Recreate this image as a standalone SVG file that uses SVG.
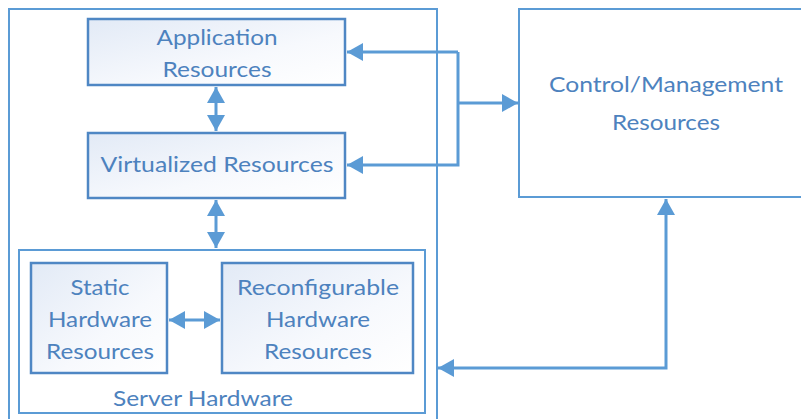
<svg xmlns="http://www.w3.org/2000/svg" width="801" height="419" viewBox="0 0 801 419">
<defs>
<linearGradient id="g" x1="0" y1="0" x2="1" y2="1">
<stop offset="0" stop-color="#e2eaf6"/>
<stop offset="0.6" stop-color="#f7f9fd"/>
<stop offset="1" stop-color="#ffffff"/>
</linearGradient>
<marker id="a" viewBox="0 0 16 18" refX="16" refY="9" markerWidth="16" markerHeight="18" markerUnits="userSpaceOnUse" orient="auto-start-reverse">
<path d="M0,0 L16,9 L0,18 Z" fill="#5b9bd5"/>
</marker>
</defs>
<style>
.cont{fill:none;stroke:#5b9bd5;stroke-width:2}
.box{fill:url(#g);stroke:#4f87c4;stroke-width:2.5}
.t{font-family:Lato,"Liberation Sans",Arial,sans-serif;font-size:21px;fill:#4d82be;text-anchor:middle}
.c{fill:none;stroke:#5b9bd5;stroke-width:3}
</style>
<g id="server-node">
<rect class="cont" x="9" y="9" width="428" height="420"/>
</g>
<g id="control">
<rect class="cont" x="519" y="9" width="290" height="188"/>
<text class="t" x="666" y="92" textLength="234" lengthAdjust="spacingAndGlyphs">Control/Management</text>
<text class="t" x="666" y="130" textLength="108" lengthAdjust="spacingAndGlyphs">Resources</text>
</g>
<g id="application">
<rect class="box" x="88" y="19" width="257" height="66"/>
<text class="t" x="217" y="45" textLength="121" lengthAdjust="spacingAndGlyphs">Application</text>
<text class="t" x="217" y="77" textLength="109" lengthAdjust="spacingAndGlyphs">Resources</text>
</g>
<g id="virtualized">
<rect class="box" x="88" y="133" width="257" height="65"/>
<text class="t" x="217" y="172" textLength="233" lengthAdjust="spacingAndGlyphs">Virtualized Resources</text>
</g>
<g id="server-hardware">
<rect class="cont" x="19" y="250" width="406" height="163"/>
<text class="t" x="203" y="406" textLength="180" lengthAdjust="spacingAndGlyphs">Server Hardware</text>
</g>
<g id="static">
<rect class="box" x="31" y="263" width="136" height="110"/>
<text class="t" x="100" y="295" textLength="59" lengthAdjust="spacingAndGlyphs">Static</text>
<text class="t" x="100" y="327" textLength="104" lengthAdjust="spacingAndGlyphs">Hardware</text>
<text class="t" x="100" y="359" textLength="108" lengthAdjust="spacingAndGlyphs">Resources</text>
</g>
<g id="reconfigurable">
<rect class="box" x="222" y="263" width="191" height="110"/>
<text class="t" x="318" y="295" textLength="162" lengthAdjust="spacingAndGlyphs">Reconfigurable</text>
<text class="t" x="318" y="327" textLength="104" lengthAdjust="spacingAndGlyphs">Hardware</text>
<text class="t" x="318" y="359" textLength="108" lengthAdjust="spacingAndGlyphs">Resources</text>
</g>
<g id="connectors">
<line class="c" x1="216" y1="87" x2="216" y2="131" marker-start="url(#a)" marker-end="url(#a)"/>
<line class="c" x1="216" y1="200" x2="216" y2="248" marker-start="url(#a)" marker-end="url(#a)"/>
<line class="c" x1="169" y1="320" x2="220" y2="320" marker-start="url(#a)" marker-end="url(#a)"/>
<polyline class="c" points="458,52 347,52" marker-end="url(#a)"/>
<polyline class="c" points="458,52 458,165 347,165" marker-end="url(#a)"/>
<polyline class="c" points="458,103 518,103" marker-end="url(#a)"/>
<polyline class="c" points="666,199 666,368 438,368" marker-start="url(#a)" marker-end="url(#a)"/>
</g>
</svg>
